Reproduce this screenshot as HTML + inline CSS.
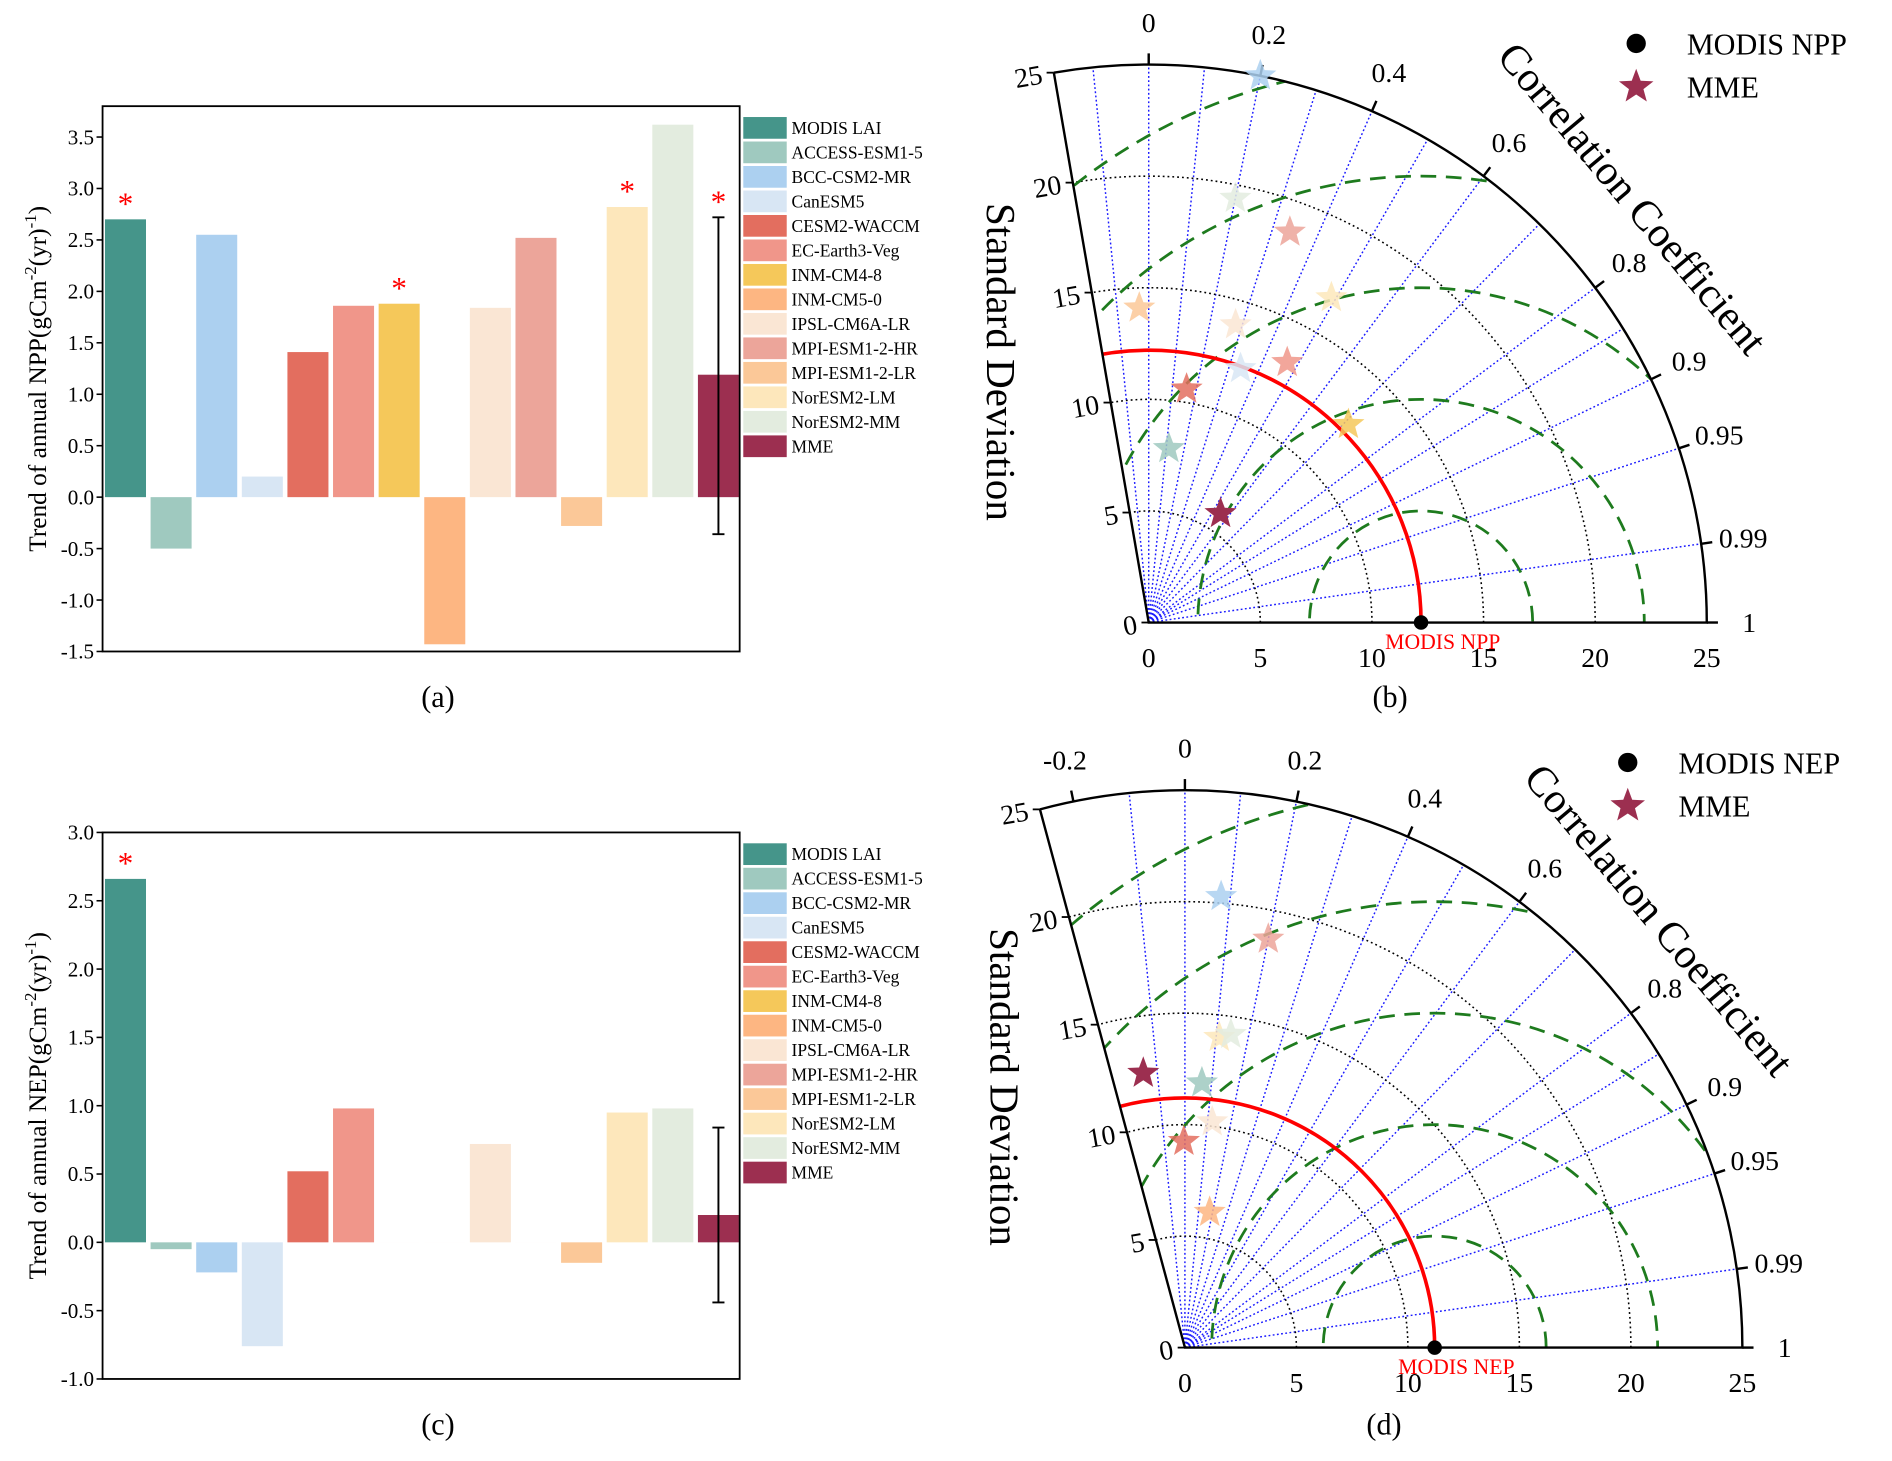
<!DOCTYPE html>
<html><head><meta charset="utf-8"><style>
html,body{margin:0;padding:0;background:#fff;overflow:hidden;width:1892px;height:1461px;}
svg{display:block;font-family:"Liberation Serif",serif;}
</style></head><body>
<svg id="fig" width="1892" height="1461" viewBox="0 0 1568 1211" preserveAspectRatio="none" xmlns="http://www.w3.org/2000/svg">
<defs>
<clipPath id="clipB"><path id="clipBpath"/></clipPath>
<clipPath id="clipD"><path id="clipDpath"/></clipPath>
</defs>
</svg>
<script>
const models = ["MODIS LAI","ACCESS-ESM1-5","BCC-CSM2-MR","CanESM5","CESM2-WACCM","EC-Earth3-Veg","INM-CM4-8","INM-CM5-0","IPSL-CM6A-LR","MPI-ESM1-2-HR","MPI-ESM1-2-LR","NorESM2-LM","NorESM2-MM","MME"];
const colors = ["#45958a","#9fc9bf","#acd0f0","#d8e6f4","#e36e5f","#f0968a","#f5c85a","#fdb682","#fae6d4","#eca59a","#fbc898","#fde7bb","#e3ecdf","#9c2f50"];
const nppTrend = [2.70,-0.50,2.55,0.20,1.41,1.86,1.88,-1.43,1.84,2.52,-0.28,2.82,3.62,1.19];
const nppSig = [1,0,0,0,0,0,1,0,0,0,0,1,0,1];
const nppErr = [-0.36,2.72];
const nepTrend = [2.66,-0.05,-0.22,-0.76,0.52,0.98,0,0,0.72,0,-0.15,0.95,0.98,0.20];
const nepSig = [1,0,0,0,0,0,0,0,0,0,0,0,0,0];
const nepErr = [-0.44,0.84];
const nppTicks = [-1.5,-1.0,-0.5,0.0,0.5,1.0,1.5,2.0,2.5,3.0,3.5];
const nepTicks = [-1.0,-0.5,0.0,0.5,1.0,1.5,2.0,2.5,3.0];

const tbStd = [25.0,19.4,18.6,16.7,14.1,13.9,12.1,13.2,10.6,12.6,7.85,5.85];
const tbCorr = [0.20,0.20,0.34,0.49,-0.03,0.28,0.34,0.47,0.16,0.71,0.115,0.55];
const tbModel = [2,12,9,11,10,8,3,5,4,6,1,13];
const tdStd = [20.3,18.7,14.0,14.2,12.45,11.9,10.2,9.25,6.17];
const tdCorr = [0.08,0.20,0.11,0.145,-0.15,0.064,0.12,-0.005,0.18];
const tdModel = [2,9,11,12,13,1,8,4,7];
const corrTicks = [0,0.2,0.4,0.6,0.8,0.9,0.95,0.99,1];
const corrLines = [-0.1,0,0.1,0.2,0.3,0.4,0.5,0.6,0.7,0.8,0.85,0.9,0.95,0.99];
const stdTicks = [0,5,10,15,20,25];

const svg = document.getElementById('fig');
const NS = "http://www.w3.org/2000/svg";
function mk(tag, attrs, parent){const e=document.createElementNS(NS,tag);for(const k in attrs)e.setAttribute(k,attrs[k]);(parent||svg).appendChild(e);return e;}

function barPanel(top, bottom, vmin, vmax, ticks, vals, sig, err, metric, gname){
  const g = mk('g',{});
  
  
  const L=85,R=613;
  const y=v=>bottom-(v-vmin)/(vmax-vmin)*(bottom-top);
  const pitch=37.8, bw=34, x0=87;
  vals.forEach((v,i)=>{
    const b=mk('rect',{x:x0+i*pitch,y:Math.min(y(v),y(0)),width:bw,height:Math.max(Math.abs(y(v)-y(0)),0.01),fill:colors[i]},g);
    
    
    if(sig[i]){
      const s=mk('text',{x:x0+i*pitch+bw/2,y:y(Math.max(v,i===13?err[1]:v))-4,'text-anchor':'middle','font-size':26,fill:'#f00'},g);
      s.textContent='*';
      
      
    }
  });
  const ex=x0+13*pitch+bw/2;
  const el=mk('path',{d:`M${ex},${y(err[0])}V${y(err[1])}M${ex-5},${y(err[0])}H${ex+5}M${ex-5},${y(err[1])}H${ex+5}`,stroke:'#000','stroke-width':1.6,fill:'none'},g);
  
  
  const fr=mk('rect',{x:L,y:top,width:R-L,height:bottom-top,fill:'none',stroke:'#000','stroke-width':1.5},g);
  
  
  ticks.forEach(t=>{
    mk('line',{x1:L-5,x2:L,y1:y(t),y2:y(t),stroke:'#000','stroke-width':1.3},g);
    const tl=mk('text',{x:L-7,y:y(t)+6,'text-anchor':'end','font-size':17.5},g);
    tl.textContent=t.toFixed(1);
    
    
  });
  const cy=(top+bottom)/2;
  const yt=mk('text',{transform:`translate(38,${cy}) rotate(-90)`,'text-anchor':'middle','font-size':21},g);
  yt.innerHTML=`Trend of annual ${metric}(gCm<tspan dy="-8" font-size="14">-2</tspan><tspan dy="8">(yr)</tspan><tspan dy="-8" font-size="14">-1</tspan><tspan dy="8">)</tspan>`;
  
  
  models.forEach((m,i)=>{
    const ly=top+18+i*20.3;
    const sw=mk('rect',{x:616,y:ly-9,width:36,height:18,fill:colors[i]},g);
    
    
    const lt=mk('text',{x:656,y:ly+5,'font-size':14.5},g);
    lt.textContent=m;
    
    
  });
}
barPanel(88,540,-1.5,3.8,nppTicks,nppTrend,nppSig,nppErr,'NPP','panel-a');
barPanel(690,1143,-1.0,3.0,nepTicks,nepTrend,nepSig,nepErr,'NEP','panel-c');

function starPts(cx,cy,R){const r=R*0.42;let p=[];for(let k=0;k<10;k++){const a=-Math.PI/2+k*Math.PI/5;const rr=k%2?r:R;p.push((cx+rr*Math.cos(a)).toFixed(1)+','+(cy+rr*Math.sin(a)).toFixed(1));}return p.join(' ');}

function taylor(ox,oy,sc,ref,leftCorr,stds,corrs,mi,clipId,refName,legX,legY,gname,ccAnchor,sdX,showNeg){
  const g=mk('g',{});
  
  
  const la=Math.acos(leftCorr);
  const P=(s,a)=>[ox+s*sc*Math.cos(a),oy-s*sc*Math.sin(a)];
  const Rm=25;
  const e0=P(Rm,0),e1=P(Rm,la);
  document.getElementById(clipId+'path').setAttribute('d',`M${ox},${oy}L${e0[0]},${e0[1]}A${Rm*sc},${Rm*sc} 0 0 0 ${e1[0]},${e1[1]}Z`);
  corrLines.forEach(c=>{if(c<leftCorr)return;const a=Math.acos(c),p=P(Rm,a);
    mk('line',{x1:ox,y1:oy,x2:p[0],y2:p[1],stroke:'#1a1aff','stroke-width':1.2,'stroke-dasharray':'1.5 2'},g);});
  [5,10,15,20].forEach(s=>{const a=P(s,0),b=P(s,la);
    mk('path',{d:`M${a[0]},${a[1]}A${s*sc},${s*sc} 0 0 0 ${b[0]},${b[1]}`,fill:'none',stroke:'#000','stroke-width':1.3,'stroke-dasharray':'1.5 2.5'},g);});
  const cg=mk('g',{'clip-path':`url(#${clipId})`},g);
  [5,10,15,20,25].forEach(r=>{mk('circle',{cx:ox+ref*sc,cy:oy,r:r*sc,fill:'none',stroke:'#1e7b1e','stroke-width':2.3,'stroke-dasharray':'13 8'},cg);});
  const ra=mk('circle',{cx:ox,cy:oy,r:ref*sc,fill:'none',stroke:'#f00','stroke-width':3},cg);
  
  
  mk('path',{d:`M${e1[0]},${e1[1]}L${ox},${oy}L${e0[0]},${e0[1]}A${Rm*sc},${Rm*sc} 0 0 0 ${e1[0]},${e1[1]}`,fill:'none',stroke:'#000','stroke-width':2},g);
  const ct=showNeg?[-0.2].concat(corrTicks):corrTicks;
  ct.forEach(c=>{const a=Math.acos(c),p=P(Rm,a),q=P(Rm+0.5,a),t=P(Rm+1.9,a);
    mk('line',{x1:p[0],y1:p[1],x2:q[0],y2:q[1],stroke:'#000','stroke-width':2},g);
    const tl=mk('text',{x:t[0],y:t[1]+8,'text-anchor':'middle','font-size':23},g);tl.textContent=String(c);
    });
  stdTicks.forEach(s=>{
    const tl=mk('text',{x:ox+s*sc,y:oy+37,'text-anchor':'middle','font-size':23},g);tl.textContent=String(s);
    
    const p=P(s,la);
    mk('line',{x1:p[0],y1:p[1],x2:p[0]-6,y2:p[1],stroke:'#000','stroke-width':1.5},g);
    const tl2=mk('text',{x:p[0]-10,y:p[1]+9,'text-anchor':'end','font-size':23,transform:`rotate(-10 ${p[0]-10} ${p[1]})`},g);tl2.textContent=String(s);
    
  });
  const rp=mk('circle',{cx:ox+ref*sc,cy:oy,r:6,fill:'#000'},g);
  
  const rl=mk('text',{x:ox+ref*sc+18,y:oy+22,'text-anchor':'middle','font-size':18,fill:'#f00'},g);rl.textContent=refName;
  
  stds.forEach((s,i)=>{const p=P(s,Math.acos(corrs[i]));const m=mi[i];
    const st=mk('polygon',{points:starPts(p[0],p[1],14),fill:colors[m],'fill-opacity':m===13?1:0.85},g);
    });
  const sd=mk('text',{transform:`translate(${sdX},${oy-216}) rotate(90)`,'text-anchor':'middle','font-size':34},g);
  sd.textContent='Standard Deviation';
  const cc=mk('text',{transform:`translate(${ccAnchor[0]},${ccAnchor[1]}) rotate(50)`,'text-anchor':'middle','font-size':35},g);
  cc.textContent='Correlation Coefficient';
  const lc=mk('circle',{cx:legX,cy:legY,r:8,fill:'#000'},g);
  const l1=mk('text',{x:legX+42,y:legY+9,'font-size':25},g);l1.textContent=refName;
  const ls=mk('polygon',{points:starPts(legX,legY+36,15),fill:colors[13]},g);
  const l2=mk('text',{x:legX+42,y:legY+45,'font-size':25},g);l2.textContent='MME';
}
taylor(952,516,18.5,12.2,-0.17,tbStd,tbCorr,tbModel,'clipB','MODIS NPP',1356,36,'panel-b',[1344,172],818,false);
taylor(982,1117,18.48,11.2,-0.26,tdStd,tdCorr,tdModel,'clipD','MODIS NEP',1349,632,'panel-d',[1366,770],821,true);

[["(a)",363,586],["(b)",1152,586],["(c)",363,1189],["(d)",1147,1189]].forEach(a=>{
  const t=mk('text',{x:a[1],y:a[2],'text-anchor':'middle','font-size':25});t.textContent=a[0];
  });
</script>
</body></html>
